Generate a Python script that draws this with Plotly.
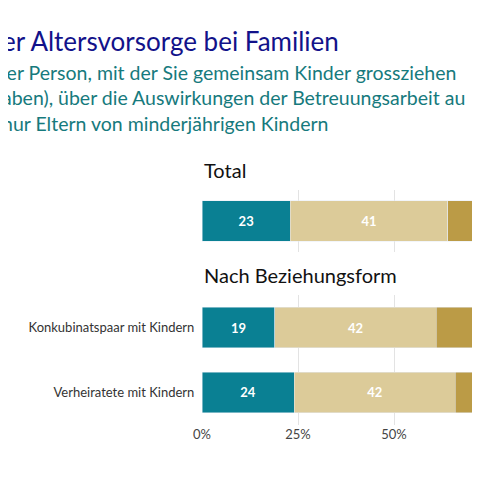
import plotly.graph_objects as go

# data
total_cat = ["Total"]
group_cat = ["Konkubinatspaar mit Kindern", "Verheiratete mit Kindern"]
seg_names = ["A", "B", "C"]
total_vals = [[23], [41], [26]]
group_vals = [[19, 24], [42, 42], [28, 24]]
colors = ["#0a8093", "#dccb99", "#bb9b46"]
tick_vals = [0, 0.25, 0.5, 0.75]
tick_text = ["0%", "25%", "50%", "75%"]

FONT = "Lato"
fig = go.Figure()
for i, name in enumerate(seg_names):
    fig.add_trace(go.Bar(
        x=[v / 100 for v in total_vals[i]], y=total_cat, orientation="h",
        marker_color=colors[i], name=name, width=0.66,
        text=["<b>%d</b>" % v for v in total_vals[i]], textposition="inside",
        insidetextanchor="middle", textfont=dict(color="white", size=13, family=FONT),
        xaxis="x2", yaxis="y2", showlegend=False))
    fig.add_trace(go.Bar(
        x=[v / 100 for v in group_vals[i]], y=group_cat, orientation="h",
        marker_color=colors[i], name=name, width=0.63,
        text=["<b>%d</b>" % v for v in group_vals[i]], textposition="inside",
        insidetextanchor="middle", textfont=dict(color="white", size=13, family=FONT),
        xaxis="x", yaxis="y", showlegend=False))

# page is offset by 8px body margin; plot area spans page y 150..430
xr = [0, 286 / 384]
fig.update_layout(
    width=480, height=480, barmode="stack",
    margin=dict(l=194, r=0, t=142, b=58),
    plot_bgcolor="white", paper_bgcolor="white",
    font=dict(family=FONT, color="#333"),
    xaxis=dict(range=xr, tickvals=tick_vals, ticktext=tick_text, showgrid=True,
               gridcolor="#e3e3e3", zeroline=False, tickfont=dict(size=13, color="#444"),
               anchor="y"),
    xaxis2=dict(range=xr, tickvals=tick_vals, showticklabels=False, showgrid=True,
                gridcolor="#e3e3e3", zeroline=False, anchor="y2", matches="x"),
    yaxis=dict(domain=[0.018, 0.482], autorange="reversed", tickfont=dict(size=13, color="#333"),
               ticksuffix="  "),
    yaxis2=dict(domain=[0.636, 0.857], showticklabels=False),
)

def px(x):
    return (x - 202) / 286

def py(y):
    return (430 - y) / 280

fig.add_annotation(text="er Altersvorsorge bei Familien", xref="paper", yref="paper",
                   x=px(0), y=py(41), xanchor="left", yanchor="middle",
                   showarrow=False, font=dict(size=26, color="#12128a"))
fig.add_annotation(text="ler Person, mit der Sie gemeinsam Kinder grossziehen<br>"
                        "aben), über die Auswirkungen der Betreuungsarbeit au<br>"
                        "hur Eltern von minderjährigen Kindern",
                   xref="paper", yref="paper", x=px(0), y=py(98),
                   xanchor="left", yanchor="middle", align="left", showarrow=False,
                   font=dict(size=19.5, color="#167a7d"))
fig.add_annotation(text="Total", xref="paper", yref="paper", x=0, y=py(170),
                   xanchor="left", yanchor="middle", showarrow=False,
                   font=dict(size=20, color="#111"))
fig.add_annotation(text="Nach Beziehungsform", xref="paper", yref="paper", x=0,
                   y=py(275), xanchor="left", yanchor="middle",
                   showarrow=False, font=dict(size=20, color="#111"))

fig.write_html("out.html")
